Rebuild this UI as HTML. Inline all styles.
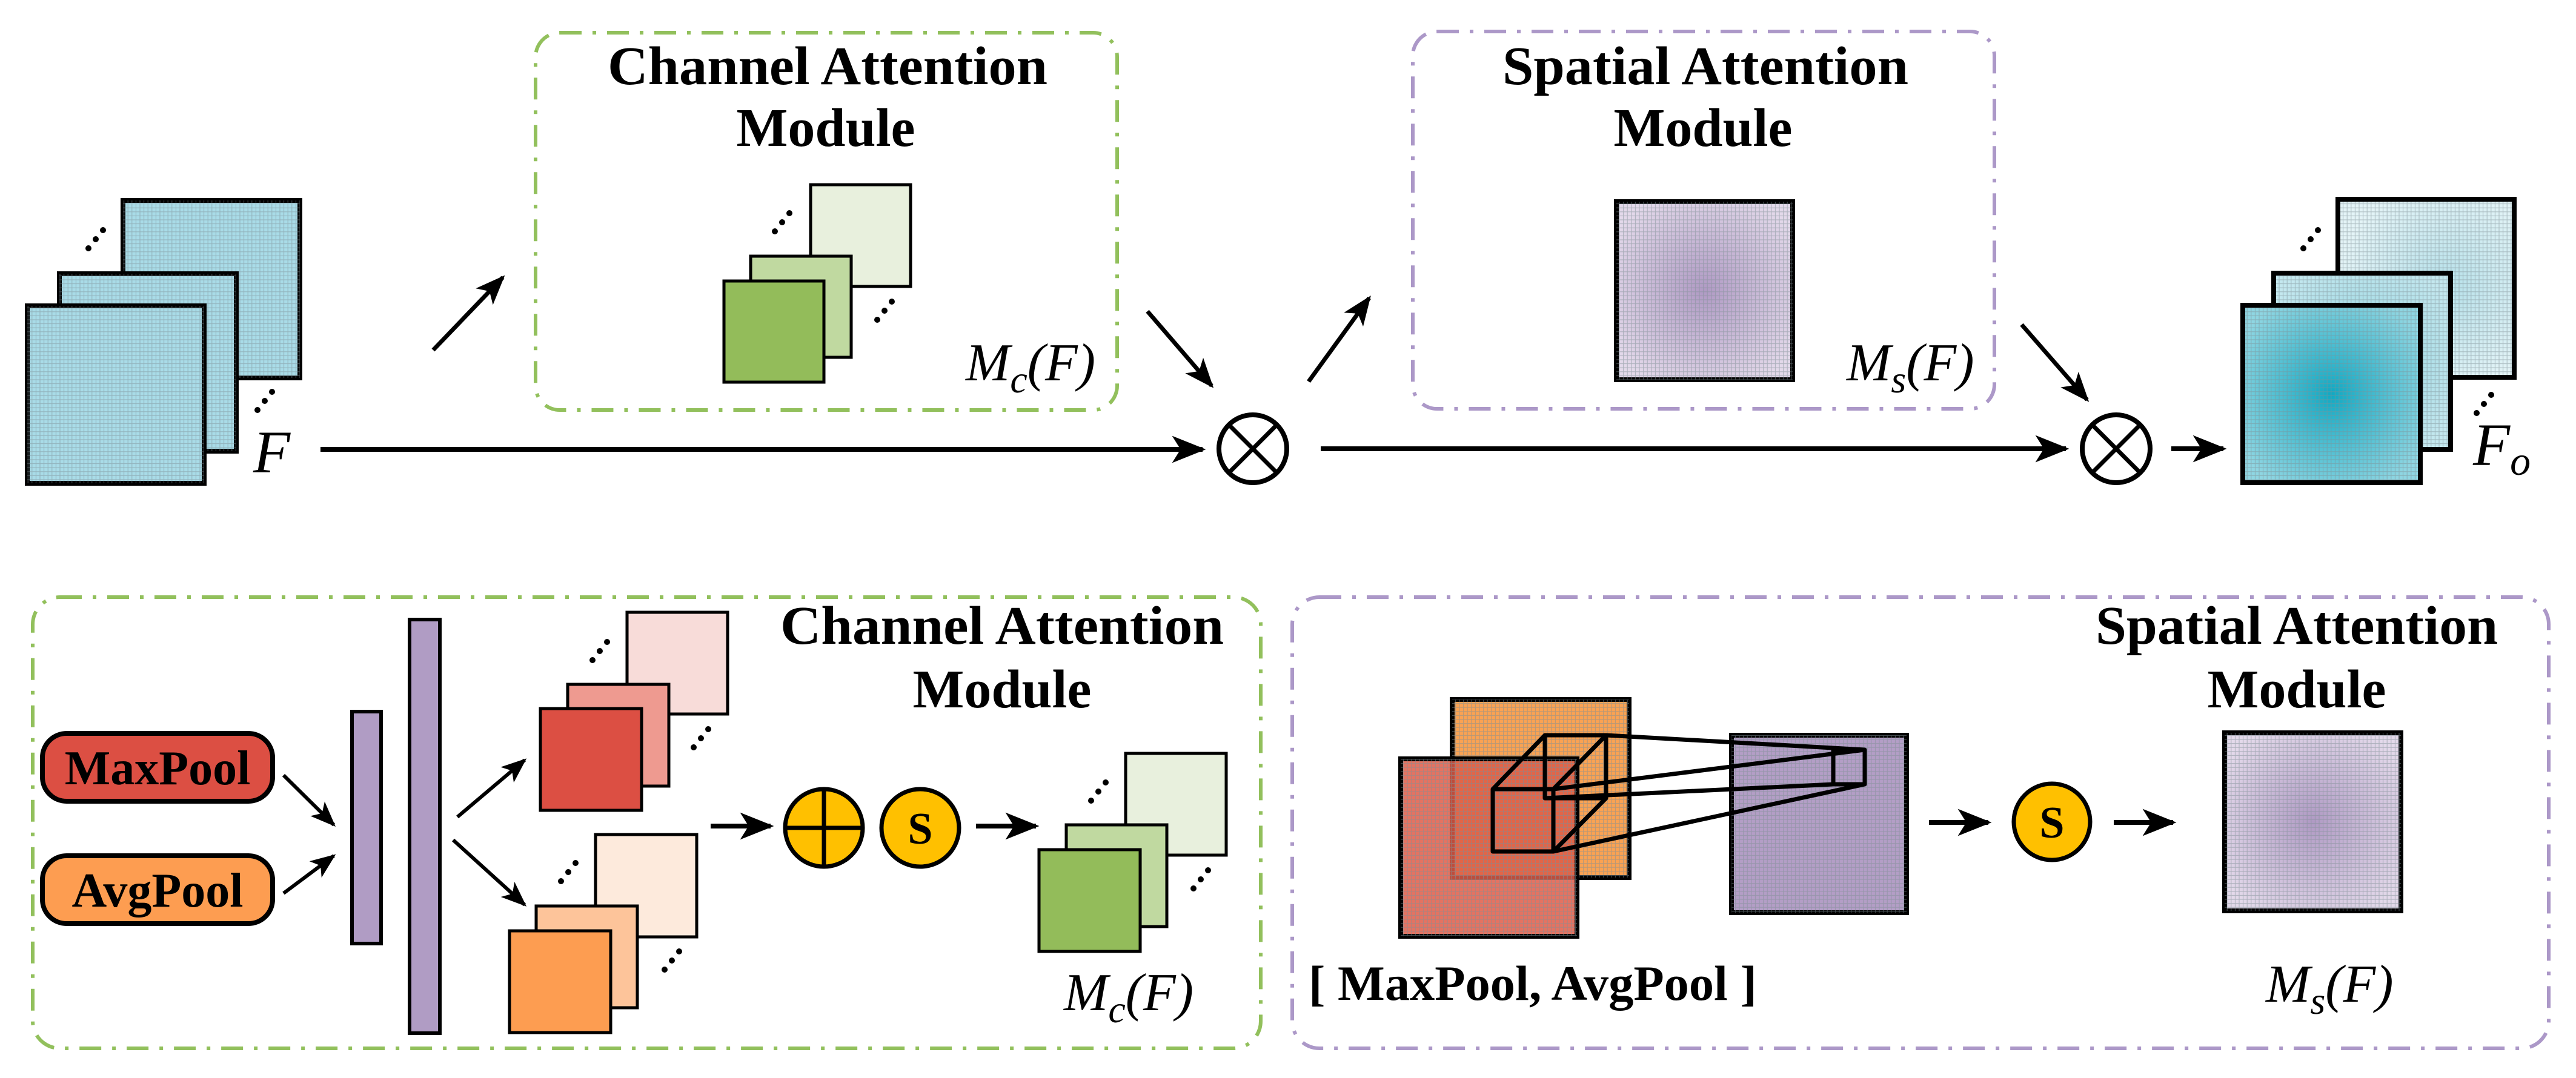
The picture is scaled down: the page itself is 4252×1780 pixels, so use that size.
<!DOCTYPE html>
<html><head><meta charset="utf-8"><style>html,body{margin:0;padding:0;background:#fff}svg{display:block}</style></head>
<body>
<svg width="4252" height="1780" viewBox="0 0 4252 1780" xmlns="http://www.w3.org/2000/svg" font-family="'Liberation Serif', serif">
<defs>
<pattern id="grid" width="6.6" height="6.6" patternUnits="userSpaceOnUse">
<rect width="6.6" height="6.6" fill="none" stroke="#7f8f95" stroke-width="1.1" stroke-opacity="0.55"/>
</pattern>
<radialGradient id="tealF" cx="0.5" cy="0.5" r="0.6"><stop offset="0" stop-color="#0fa9c3"/><stop offset="1" stop-color="#8fd6e2"/></radialGradient>
<radialGradient id="tealM" cx="0.5" cy="0.5" r="0.6"><stop offset="0" stop-color="#8fd3df"/><stop offset="1" stop-color="#c4e8ef"/></radialGradient>
<radialGradient id="tealB" cx="0.6" cy="0.5" r="0.6"><stop offset="0" stop-color="#b5e0e9"/><stop offset="1" stop-color="#e4f4f7"/></radialGradient>
<radialGradient id="purp" cx="0.5" cy="0.5" r="0.6"><stop offset="0" stop-color="#b09ac4"/><stop offset="1" stop-color="#e3d9ea"/></radialGradient>
<marker id="ah" viewBox="0 0 20 16" refX="18" refY="8" markerWidth="7" markerHeight="6" orient="auto" markerUnits="strokeWidth">
<path d="M0,0 L20,8 L0,16 L5,8 Z" fill="#000"/>
</marker>
</defs>

<!-- ===== TOP ROW ===== -->
<g stroke="#000" stroke-width="8">
<rect x="203" y="331" width="292" height="293" fill="#a9dce8"/>
<rect x="203" y="331" width="292" height="293" fill="url(#grid)" stroke="none"/>
<rect x="98" y="452" width="292" height="293" fill="#a9dce8"/>
<rect x="98" y="452" width="292" height="293" fill="url(#grid)" stroke="none"/>
<rect x="45" y="505" width="292" height="293" fill="#a9dce8"/>
<rect x="45" y="505" width="292" height="293" fill="url(#grid)" stroke="none"/>
</g>
<g fill="#000"><circle cx="146" cy="410" r="5"/><circle cx="158" cy="395" r="5"/><circle cx="170" cy="380" r="5"/>
<circle cx="425" cy="677" r="5"/><circle cx="437" cy="662" r="5"/><circle cx="449" cy="647" r="5"/></g>
<text x="418" y="780" font-size="100" font-style="italic">F</text>

<line x1="529" y1="742" x2="1985" y2="742" stroke="#000" stroke-width="8" marker-end="url(#ah)"/>
<circle cx="2068" cy="741" r="56" fill="#fff" stroke="#000" stroke-width="8"/>
<line x1="2028" y1="701" x2="2108" y2="781" stroke="#000" stroke-width="7"/><line x1="2108" y1="701" x2="2028" y2="781" stroke="#000" stroke-width="7"/>

<line x1="715" y1="578" x2="830" y2="458" stroke="#000" stroke-width="7" marker-end="url(#ah)"/>
<line x1="1894" y1="514" x2="2000" y2="637" stroke="#000" stroke-width="7" marker-end="url(#ah)"/>

<rect x="884" y="54" width="960" height="623" rx="40" fill="none" stroke="#92c05c" stroke-width="6" stroke-dasharray="36 18 6 18"/>
<text x="1003" y="139" font-size="90" font-weight="bold" textLength="726" lengthAdjust="spacingAndGlyphs">Channel Attention</text>
<text x="1363" y="241" font-size="90" font-weight="bold" text-anchor="middle">Module</text>
<g stroke="#000" stroke-width="5">
<rect x="1338" y="305" width="165" height="168" fill="#e8f0dd"/>
<rect x="1239" y="423" width="166" height="167" fill="#c0d9a0"/>
<rect x="1195" y="464" width="165" height="167" fill="#93bc5a"/>
</g>
<g fill="#000"><circle cx="1279" cy="382" r="5"/><circle cx="1291" cy="367" r="5"/><circle cx="1303" cy="352" r="5"/>
<circle cx="1448" cy="528" r="5"/><circle cx="1460" cy="513" r="5"/><circle cx="1472" cy="498" r="5"/></g>
<text x="1594" y="628" font-size="88" font-style="italic">M<tspan font-size="64" dy="20">c</tspan><tspan dy="-20">(F)</tspan></text>

<line x1="2160" y1="630" x2="2260" y2="492" stroke="#000" stroke-width="7" marker-end="url(#ah)"/>
<rect x="2332" y="52" width="960" height="623" rx="40" fill="none" stroke="#ac98c8" stroke-width="6" stroke-dasharray="36 18 6 18"/>
<text x="2480" y="139" font-size="90" font-weight="bold" textLength="670" lengthAdjust="spacingAndGlyphs">Spatial Attention</text>
<text x="2811" y="241" font-size="90" font-weight="bold" text-anchor="middle">Module</text>
<rect x="2668" y="333" width="291" height="294" fill="url(#purp)" stroke="#000" stroke-width="8"/>
<rect x="2668" y="333" width="291" height="294" fill="url(#grid)"/>
<text x="3048" y="628" font-size="88" font-style="italic">M<tspan font-size="64" dy="20">s</tspan><tspan dy="-20">(F)</tspan></text>

<line x1="3337" y1="536" x2="3445" y2="660" stroke="#000" stroke-width="7" marker-end="url(#ah)"/>
<line x1="2180" y1="741" x2="3410" y2="741" stroke="#000" stroke-width="8" marker-end="url(#ah)"/>
<circle cx="3493" cy="741" r="56" fill="#fff" stroke="#000" stroke-width="8"/>
<line x1="3453" y1="701" x2="3533" y2="781" stroke="#000" stroke-width="7"/><line x1="3533" y1="701" x2="3453" y2="781" stroke="#000" stroke-width="7"/>
<line x1="3584" y1="741" x2="3670" y2="741" stroke="#000" stroke-width="8" marker-end="url(#ah)"/>

<g stroke="#000" stroke-width="8">
<rect x="3859" y="329" width="291" height="294" fill="url(#tealB)"/>
<rect x="3859" y="329" width="291" height="294" fill="url(#grid)"/>
<rect x="3753" y="451" width="292" height="291" fill="url(#tealM)"/>
<rect x="3753" y="451" width="292" height="291" fill="url(#grid)"/>
<rect x="3702" y="504" width="293" height="293" fill="url(#tealF)"/>
<rect x="3702" y="504" width="293" height="293" fill="url(#grid)"/>
</g>
<g fill="#000"><circle cx="3802" cy="410" r="5"/><circle cx="3814" cy="395" r="5"/><circle cx="3826" cy="380" r="5"/>
<circle cx="4088" cy="682" r="5"/><circle cx="4100" cy="667" r="5"/><circle cx="4112" cy="652" r="5"/></g>
<text x="4082" y="768" font-size="100" font-style="italic">F<tspan font-size="68" dy="16">o</tspan></text>

<!-- ===== BOTTOM LEFT ===== -->
<rect x="54" y="986" width="2027" height="745" rx="45" fill="none" stroke="#92c05c" stroke-width="6" stroke-dasharray="36 18 6 18"/>
<text x="1288" y="1063" font-size="90" font-weight="bold" textLength="732" lengthAdjust="spacingAndGlyphs">Channel Attention</text>
<text x="1654" y="1168" font-size="90" font-weight="bold" text-anchor="middle">Module</text>

<rect x="70" y="1211" width="380" height="112" rx="40" fill="#dc4f43" stroke="#000" stroke-width="8"/>
<text x="260" y="1295" font-size="80" font-weight="bold" text-anchor="middle">MaxPool</text>
<rect x="70" y="1413" width="380" height="112" rx="40" fill="#fd9d51" stroke="#000" stroke-width="8"/>
<text x="260" y="1497" font-size="80" font-weight="bold" text-anchor="middle">AvgPool</text>
<line x1="468" y1="1280" x2="551" y2="1362" stroke="#000" stroke-width="6" marker-end="url(#ah)"/>
<line x1="468" y1="1475" x2="551" y2="1413" stroke="#000" stroke-width="6" marker-end="url(#ah)"/>
<rect x="581" y="1175" width="48" height="383" fill="#b09cc4" stroke="#000" stroke-width="6"/>
<rect x="676" y="1023" width="50" height="683" fill="#b09cc4" stroke="#000" stroke-width="6"/>
<line x1="755" y1="1349" x2="866" y2="1255" stroke="#000" stroke-width="6" marker-end="url(#ah)"/>
<line x1="748" y1="1387" x2="866" y2="1494" stroke="#000" stroke-width="6" marker-end="url(#ah)"/>
<g stroke="#000" stroke-width="5">
<rect x="1035" y="1011" width="166" height="168" fill="#f8dcd9"/>
<rect x="937" y="1130" width="167" height="168" fill="#ee9a90"/>
<rect x="892" y="1170" width="167" height="168" fill="#dc4f43"/>
<rect x="983" y="1378" width="167" height="169" fill="#fdeadc"/>
<rect x="885" y="1496" width="167" height="168" fill="#fdc49a"/>
<rect x="841" y="1537" width="167" height="168" fill="#fd9d51"/>
<rect x="1858" y="1244" width="166" height="168" fill="#e8f0dd"/>
<rect x="1760" y="1362" width="166" height="168" fill="#c0d9a0"/>
<rect x="1715" y="1403" width="167" height="168" fill="#93bc5a"/>
</g>
<g fill="#000">
<circle cx="978" cy="1090" r="5"/><circle cx="990" cy="1075" r="5"/><circle cx="1002" cy="1060" r="5"/>
<circle cx="1145" cy="1234" r="5"/><circle cx="1157" cy="1219" r="5"/><circle cx="1169" cy="1204" r="5"/>
<circle cx="926" cy="1455" r="5"/><circle cx="938" cy="1440" r="5"/><circle cx="950" cy="1425" r="5"/>
<circle cx="1097" cy="1601" r="5"/><circle cx="1109" cy="1586" r="5"/><circle cx="1121" cy="1571" r="5"/>
<circle cx="1801" cy="1322" r="5"/><circle cx="1813" cy="1307" r="5"/><circle cx="1825" cy="1292" r="5"/>
<circle cx="1970" cy="1467" r="5"/><circle cx="1982" cy="1452" r="5"/><circle cx="1994" cy="1437" r="5"/>
</g>
<line x1="1173" y1="1364" x2="1272" y2="1364" stroke="#000" stroke-width="8" marker-end="url(#ah)"/>
<circle cx="1360" cy="1367" r="64" fill="#ffc000" stroke="#000" stroke-width="7"/>
<line x1="1296" y1="1367" x2="1424" y2="1367" stroke="#000" stroke-width="7"/><line x1="1360" y1="1303" x2="1360" y2="1431" stroke="#000" stroke-width="7"/>
<circle cx="1519" cy="1367" r="64" fill="#ffc000" stroke="#000" stroke-width="7"/>
<text x="1519" y="1393" font-size="74" font-weight="bold" text-anchor="middle">S</text>
<line x1="1611" y1="1364" x2="1710" y2="1364" stroke="#000" stroke-width="8" marker-end="url(#ah)"/>
<text x="1756" y="1668" font-size="88" font-style="italic">M<tspan font-size="64" dy="20">c</tspan><tspan dy="-20">(F)</tspan></text>

<!-- ===== BOTTOM RIGHT ===== -->
<rect x="2133" y="986" width="2074" height="745" rx="45" fill="none" stroke="#ac98c8" stroke-width="6" stroke-dasharray="36 18 6 18"/>
<text x="3459" y="1063" font-size="90" font-weight="bold" textLength="664" lengthAdjust="spacingAndGlyphs">Spatial Attention</text>
<text x="3791" y="1168" font-size="90" font-weight="bold" text-anchor="middle">Module</text>

<rect x="2397" y="1155" width="292" height="294" fill="#f9a253" stroke="#000" stroke-width="8"/>
<rect x="2397" y="1155" width="292" height="294" fill="url(#grid)"/>
<rect x="2312" y="1253" width="291" height="293" fill="#de5a46" fill-opacity="0.85" stroke="#000" stroke-width="8"/>
<rect x="2312" y="1253" width="291" height="293" fill="url(#grid)"/>
<rect x="2858" y="1214" width="289" height="293" fill="#b39ec6" stroke="#000" stroke-width="8"/>
<rect x="2858" y="1214" width="289" height="293" fill="url(#grid)"/>
<g fill="none" stroke="#000" stroke-width="7" stroke-linejoin="round">
<rect x="2464" y="1303" width="100" height="103"/>
<rect x="2550" y="1214" width="101" height="104"/>
<line x1="2464" y1="1303" x2="2550" y2="1214"/><line x1="2564" y1="1303" x2="2651" y2="1214"/><line x1="2564" y1="1406" x2="2651" y2="1318"/>
<rect x="3026" y="1238" width="52" height="57"/>
<line x1="2651" y1="1214" x2="3078" y2="1238"/>
<line x1="2564" y1="1303" x2="3078" y2="1238"/>
<line x1="2550" y1="1318" x2="3026" y2="1295"/>
<line x1="2564" y1="1406" x2="3078" y2="1295"/>
</g>
<line x1="3184" y1="1358" x2="3282" y2="1358" stroke="#000" stroke-width="8" marker-end="url(#ah)"/>
<circle cx="3387" cy="1357" r="63" fill="#ffc000" stroke="#000" stroke-width="7"/>
<text x="3387" y="1383" font-size="74" font-weight="bold" text-anchor="middle">S</text>
<line x1="3489" y1="1358" x2="3587" y2="1358" stroke="#000" stroke-width="8" marker-end="url(#ah)"/>
<rect x="3672" y="1210" width="291" height="294" fill="url(#purp)" stroke="#000" stroke-width="8"/>
<rect x="3672" y="1210" width="291" height="294" fill="url(#grid)"/>
<text x="2160" y="1651" font-size="82" font-weight="bold" textLength="740" lengthAdjust="spacingAndGlyphs">[ MaxPool, AvgPool ]</text>
<text x="3740" y="1654" font-size="88" font-style="italic">M<tspan font-size="64" dy="20">s</tspan><tspan dy="-20">(F)</tspan></text>
</svg>
</body></html>
